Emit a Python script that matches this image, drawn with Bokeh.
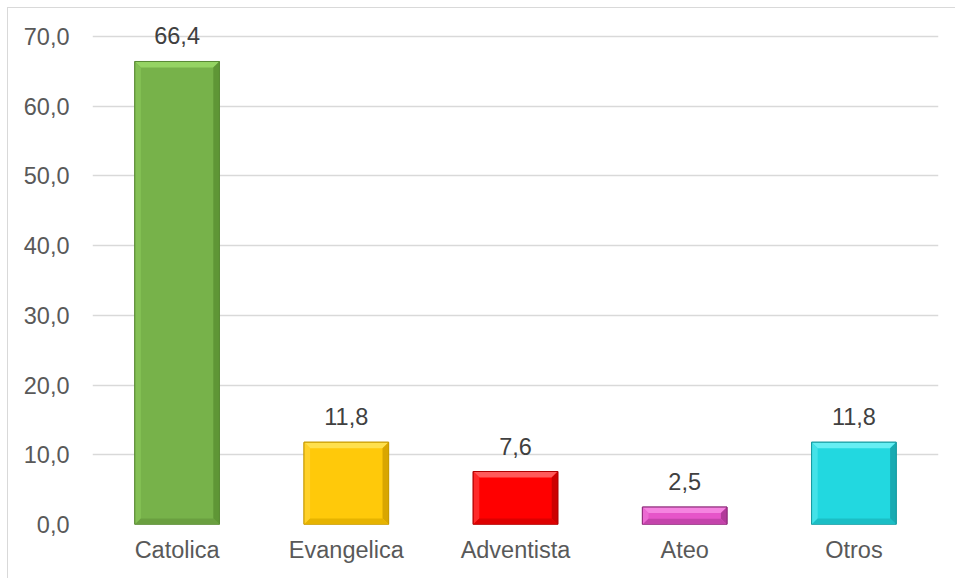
from bokeh.plotting import figure
from bokeh.models import ColumnDataSource, FixedTicker, LabelSet
from bokeh.core.properties import value
from bokeh.embed import file_html
from bokeh.resources import INLINE

categories = ["Catolica", "Evangelica", "Adventista", "Ateo", "Otros"]
values = [66.4, 11.8, 7.6, 2.5, 11.8]
y_ticks = [0, 10, 20, 30, 40, 50, 60, 70]

face = ["#77B24A", "#FFC90A", "#FF0000", "#E655C9", "#22D8E0"]
top_c = ["#95D463", "#FFE04D", "#FF5A5A", "#F584E0", "#66EEF3"]
left_c = ["#84C055", "#FFD12A", "#FF2A2A", "#EB6AD2", "#44E2E8"]
right_c = ["#5F9636", "#D9A600", "#CC0000", "#B23A9A", "#19ABB2"]
bot_c = ["#6A9F40", "#E6B300", "#DD0000", "#C444AB", "#1BBEC5"]
edge_c = ["#5A8A35", "#C89A00", "#B00000", "#8E2A7A", "#169AA0"]

FONT = "Liberation Sans"
FS = "23.5px"

xs_pos = [i + 1 for i in range(len(categories))]
labels = [f"{v:.1f}".replace(".", ",") for v in values]

p = figure(width=948, height=571, x_range=(0.5, len(categories) + 0.5), y_range=(0, 74),
           output_backend="svg", toolbar_location=None,
           min_border_left=84, min_border_right=18, min_border_top=0, min_border_bottom=55)
p.margin = (7, 0, 0, 7)
p.styles = {"border-top": "1px solid #D9D9D9", "border-left": "1px solid #D9D9D9"}
p.outline_line_color = None
p.background_fill_color = "white"
p.border_fill_color = "white"

src = ColumnDataSource(dict(x=xs_pos, top=values, face=face, edge=edge_c, label=labels))
W = 0.5
p.vbar(x="x", top="top", bottom=0, width=W, source=src, fill_color="face",
       line_color="edge", line_width=1)

# bevels
bx, by = 0.036, 0.86
pxs, pys, pcol = [], [], []
for c, t, tc, lc, rc, bc in zip(xs_pos, values, top_c, left_c, right_c, bot_c):
    w = W / 2
    b = min(by, t / 3)
    pxs += [[c - w, c + w, c + w - bx, c - w + bx],
            [c - w, c - w, c - w + bx, c - w + bx],
            [c + w, c + w, c + w - bx, c + w - bx],
            [c - w, c + w, c + w - bx, c - w + bx]]
    pys += [[t, t, t - b, t - b],
            [0, t, t - b, b],
            [0, t, t - b, b],
            [0, 0, b, b]]
    pcol += [tc, lc, rc, bc]
p.patches(pxs, pys, fill_color=pcol, line_color=None)
p.vbar(x="x", top="top", bottom=0, width=W, source=src, fill_color=None,
       line_color="edge", line_width=1)

lbl = LabelSet(x="x", y="top", text="label", source=src, text_align="center",
               text_baseline="alphabetic", y_offset=17, text_font=value(FONT),
               text_font_size=value(FS), text_color=value("#404040"))
p.add_layout(lbl)

p.xaxis.ticker = FixedTicker(ticks=xs_pos)
p.xaxis.major_label_overrides = {x: c for x, c in zip(xs_pos, categories)}
p.yaxis.ticker = FixedTicker(ticks=y_ticks)
p.yaxis.major_label_overrides = {v: f"{v:.1f}".replace(".", ",") for v in y_ticks}

for ax in (p.xaxis, p.yaxis):
    ax.axis_line_color = None
    ax.major_tick_line_color = None
    ax.minor_tick_line_color = None
    ax.major_label_text_font = FONT
    ax.major_label_text_font_size = FS
    ax.major_label_text_color = "#595959"
p.xaxis.major_label_standoff = 6
p.yaxis.major_label_standoff = 17

p.xgrid.grid_line_color = None
p.ygrid.grid_line_color = "#D9D9D9"
p.ygrid.grid_line_width = 1.5

open("out.html", "w").write(file_html(p, INLINE))
